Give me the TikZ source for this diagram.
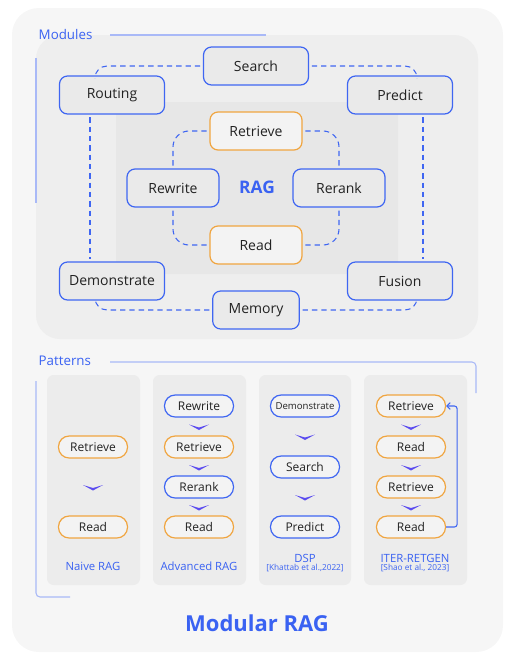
\documentclass[tikz,border=0pt]{standalone}
\usepackage{fontspec}
\setmainfont{Open Sans}
\usetikzlibrary{calc,arrows.meta}
\definecolor{cardbg}{HTML}{F6F6F6}
\definecolor{modbg}{HTML}{EEEEEE}
\definecolor{innerbg}{HTML}{E7E7E7}
\definecolor{colbg}{HTML}{ECECEC}
\definecolor{nodegray}{HTML}{EAEAEA}
\definecolor{nodelight}{HTML}{F3F3F3}
\definecolor{modblue}{HTML}{3F66F2}
\definecolor{modorange}{HTML}{F0A540}
\definecolor{titleblue}{HTML}{3A62F2}
\definecolor{linelight}{HTML}{A9B9F7}
\definecolor{chevc}{HTML}{5B4CF0}
\definecolor{inkdark}{HTML}{222222}

\begin{document}
\begin{tikzpicture}[x=0.75pt, y=-0.75pt,
  every node/.style={text=inkdark, font=\fontsize{10.5}{12}\selectfont},
  modnode/.style={draw=modblue, fill=nodegray, line width=0.9pt, rounded corners=6pt, minimum width=78.75pt, minimum height=28.5pt},
  ragnode/.style={modnode, minimum width=69pt},
  ragorange/.style={ragnode, draw=modorange, fill=nodelight},
  patnode/.style={draw=modblue, fill=nodelight, line width=0.9pt, rounded corners=8pt, minimum width=51.75pt, minimum height=16.5pt, inner sep=1pt, font=\fontsize{9}{10}\selectfont},
  patorange/.style={patnode, draw=modorange},
  patlabel/.style={text=titleblue, font=\fontsize{8.5}{10}\selectfont},
  citelabel/.style={text=titleblue, font=\fontsize{6.2}{7}\selectfont},
  ring/.style={draw=modblue, line width=0.8pt, dash pattern=on 4pt off 3pt, rounded corners=9pt, shorten <=2pt, shorten >=2pt},
  sectline/.style={draw=linelight, line width=0.8pt, rounded corners=3pt},
  chev/.pic={\fill[chevc] (-10,-2) -- (0,3.5) -- (10,-2) -- (0,1) -- cycle;}]
  \useasboundingbox (0,0) rectangle (513,669);
  \fill[cardbg, rounded corners=20pt] (12,8) rectangle (503,652);
  \fill[modbg, rounded corners=18pt] (36,35) rectangle (478,339);
  \fill[innerbg, rounded corners=4pt] (116,102) rectangle (398,274);

  \node[text=titleblue, anchor=west, font=\fontsize{10}{12}\selectfont] (modtitle) at (34,34) {Modules};
  \draw[sectline] (110,35) -- (266,35);
  \draw[sectline] (36,58) -- (36,203);

  \node[modnode] (search) at (256,66) {Search};
  \node[modnode] (routing) at (112,95) {Routing};
  \node[modnode] (predict) at (400,95) {Predict};
  \node[ragorange] (retrieve) at (256,131) {Retrieve};
  \node[ragnode] (rewrite) at (173,188) {Rewrite};
  \node[ragnode] (rerank) at (339,188) {Rerank};
  \node[ragorange] (read) at (256,245) {Read};
  \node[modnode] (demo) at (112,281) {Demonstrate};
  \node[modnode] (fusion) at (400,281) {Fusion};
  \node[modnode, minimum width=65pt] (memory) at (256,310) {Memory};
  \node[text=titleblue, font=\fontsize{13}{15}\selectfont\bfseries] (rag) at (257,187) {RAG};

  \draw[ring] (search.west) -| ([xshift=-12.75pt]routing.north);
  \draw[ring] (search.east) -| ([xshift=12.75pt]predict.north);
  \draw[ring] ([xshift=-16.5pt]routing.south) -- ([xshift=-16.5pt]demo.north);
  \draw[ring] ([xshift=17.25pt]predict.south) -- ([xshift=17.25pt]fusion.north);
  \draw[ring] (memory.west) -| ([xshift=-12.75pt]demo.south);
  \draw[ring] (memory.east) -| ([xshift=12.75pt]fusion.south);
  \draw[ring, rounded corners=12pt] (retrieve.west) -| (rewrite.north);
  \draw[ring, rounded corners=12pt] (retrieve.east) -| (rerank.north);
  \draw[ring, rounded corners=12pt] (read.west) -| (rewrite.south);
  \draw[ring, rounded corners=12pt] (read.east) -| (rerank.south);

  \node[text=titleblue, anchor=west, font=\fontsize{10}{12}\selectfont] (pattitle) at (34,361) {Patterns};
  \draw[sectline] (110,362) -| (476,393);
  \draw[sectline] (36,381) |- (70,597);

  \fill[colbg, rounded corners=5pt] (47,375) rectangle (140,585);
  \fill[colbg, rounded corners=5pt] (153,375) rectangle (246,585);
  \fill[colbg, rounded corners=5pt] (259,375) rectangle (351,585);
  \fill[colbg, rounded corners=5pt] (364,375) rectangle (467,585);

  \node[patorange] (naiveret) at (93,447) {Retrieve};
  \node[patorange] (naiveread) at (93,527) {Read};
  \pic at ($(naiveret)!.5!(naiveread)$) {chev};
  \node[patlabel] (naivelabel) at (93,566) {Naive RAG};

  \node[patnode] (advrew) at (199,406) {Rewrite};
  \node[patorange] (advret) at (199,447) {Retrieve};
  \node[patnode] (advrer) at (199,487) {Rerank};
  \node[patorange] (advread) at (199,527) {Read};
  \pic at ($(advrew)!.5!(advret)$) {chev};
  \pic at ($(advret)!.5!(advrer)$) {chev};
  \pic at ($(advrer)!.5!(advread)$) {chev};
  \node[patlabel] (advlabel) at (199,566) {Advanced RAG};

  \node[patnode, font=\fontsize{7.2}{8}\selectfont] (dspdemo) at (305,406) {Demonstrate};
  \node[patnode] (dspsearch) at (305,467) {Search};
  \node[patnode] (dsppred) at (305,527) {Predict};
  \pic at ($(dspdemo)!.5!(dspsearch)$) {chev};
  \pic at ($(dspsearch)!.5!(dsppred)$) {chev};
  \node[patlabel] (dsplabel) at (305,558) {DSP};
  \node[citelabel] (dspcite) at (305,568) {[Khattab et al.,2022]};

  \node[patorange] (iterret) at (411,406) {Retrieve};
  \node[patorange] (iterread) at (411,447) {Read};
  \node[patorange] (iterretb) at (411,487) {Retrieve};
  \node[patorange] (iterreadb) at (411,527) {Read};
  \pic at ($(iterret)!.5!(iterread)$) {chev};
  \pic at ($(iterread)!.5!(iterretb)$) {chev};
  \pic at ($(iterretb)!.5!(iterreadb)$) {chev};
  \draw[draw=modblue, line width=0.8pt, rounded corners=2pt, -{Straight Barb[length=2.5pt, width=5pt]}] (iterreadb.east) -- ++(11,0) |- (iterret.east);
  \node[patlabel] (iterlabel) at (415,558) {ITER-RETGEN};
  \node[citelabel] (itercite) at (415,568) {[Shao et al., 2023]};

  \node[text=titleblue, font=\fontsize{16.5}{20}\selectfont\bfseries] (title) at (257,623) {Modular RAG};
\end{tikzpicture}
\end{document}
